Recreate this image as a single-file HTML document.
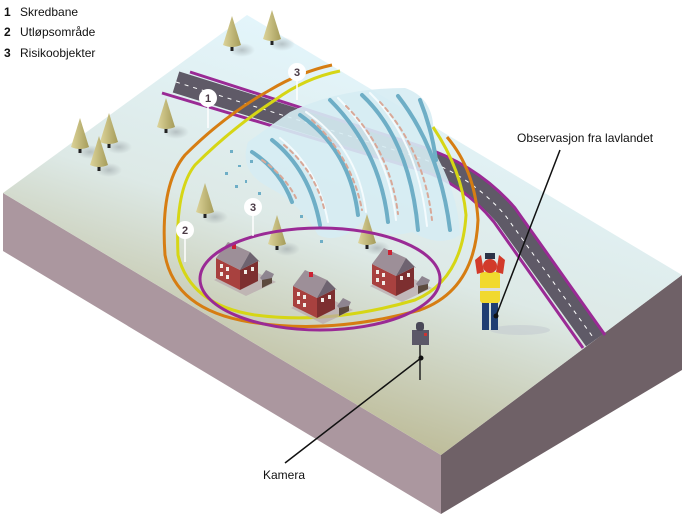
<!DOCTYPE html>
<html><head><meta charset="utf-8"><style>
html,body{margin:0;padding:0;background:#fff;}
svg{display:block;font-family:"Liberation Sans",sans-serif;}
</style></head><body>
<svg width="683" height="520" viewBox="0 0 683 520" xmlns="http://www.w3.org/2000/svg">
<defs>
<linearGradient id="top" x1="0.75" y1="0.2" x2="0.35" y2="1">
<stop offset="0" stop-color="#e3f5fb"/><stop offset="0.45" stop-color="#dde9e6"/><stop offset="1" stop-color="#b3ad7f"/>
</linearGradient>
<linearGradient id="tree" x1="0" x2="1"><stop offset="0" stop-color="#ddd49a"/><stop offset="1" stop-color="#a59c5a"/></linearGradient>
<radialGradient id="sh"><stop offset="0" stop-color="#9aa3a6" stop-opacity="0.6"/><stop offset="1" stop-color="#9aa3a6" stop-opacity="0"/></radialGradient>
<g id="t"><ellipse cx="10" cy="2" rx="13" ry="7" fill="url(#sh)"/><rect x="-1.5" y="-4" width="3" height="7" fill="#222"/><path d="M0,-32 L-9,-3 Q0,1 9,-3 Z" fill="url(#tree)"/></g>
<g id="h">
<path d="M-22,8 L10,24 L40,10 L8,-6 Z" fill="#b8a6ad" opacity="0.7"/>
<path d="M-20,-14 L-20,6 L4,18 L4,-2 Z" fill="#a8413f"/>
<path d="M4,18 L22,9 L22,-11 L4,-2 Z" fill="#7d2f30"/>
<path d="M-20,-14 L-8,-30 L14,-20 L4,-2 Z" fill="#9d8f98"/>
<path d="M4,-2 L14,-20 L24,-10 L22,-11 Z" fill="#6e6370"/>
<rect x="-4" y="-28" width="4" height="5" fill="#c23"/>
<g fill="#f2eee8"><rect x="-16" y="-8" width="3" height="4"/><rect x="-10" y="-5" width="3" height="4"/><rect x="-16" y="0" width="3" height="4"/><rect x="-10" y="3" width="3" height="4"/><rect x="8" y="-2" width="3" height="4"/><rect x="15" y="-5" width="3" height="4"/></g>
<path d="M26,6 L26,16 L36,11 L36,2 Z" fill="#5c4a3e"/><path d="M24,6 L30,-2 L38,2 L36,6 L26,8 Z" fill="#8e8590"/>
</g>
</defs>

<path d="M3,193 L441,455 L441,514 L3,251 Z" fill="#ab979f"/>
<path d="M441,455 L682,275 L682,370 L441,514 Z" fill="#6f6167"/>
<path d="M3,193 L247,15 L682,275 L441,455 Z" fill="url(#top)"/>

<!-- road -->
<path d="M176,82 L420,158 Q470,175 505,215 L595,340" fill="none" stroke="#5f5a67" stroke-width="22"/>
<path d="M176,82 L420,158 Q470,175 505,215 L595,340" fill="none" stroke="#fff" stroke-width="1" stroke-dasharray="4 5"/>
<path d="M162,93 L420,170 Q462,183 494,222 L583,348" fill="none" stroke="#9a2a95" stroke-width="3"/>
<path d="M190,72 L420,146 Q478,165 515,208 L605,335" fill="none" stroke="#9a2a95" stroke-width="3"/>

<!-- avalanche -->
<path d="M290,112 Q340,88 405,88 Q440,100 432,148 Q458,190 460,235 Q440,248 412,232 Q385,240 362,222 Q340,245 318,235 Q302,205 270,188 Q238,172 248,142 Z" fill="#d6ecf3" opacity="0.9"/>
<g fill="none" stroke-linecap="round">
<g stroke="#6eaec6" stroke-width="4">
<path d="M300,115 Q350,150 358,215"/><path d="M330,100 Q380,150 388,222"/><path d="M362,95 Q410,140 418,230"/><path d="M398,96 Q440,150 450,230"/><path d="M272,140 Q310,170 320,225"/><path d="M252,152 Q280,170 292,202"/><path d="M420,100 Q432,130 436,160"/>
</g>
<g stroke="#f4fbfd" stroke-width="2">
<path d="M306,112 Q358,148 366,212"/><path d="M338,98 Q388,148 396,220"/><path d="M370,93 Q418,140 427,226"/><path d="M280,138 Q318,168 328,222"/>
</g>
<g stroke="#d8a898" stroke-width="2" stroke-dasharray="4 4">
<path d="M312,120 Q352,158 362,210"/><path d="M346,106 Q390,150 398,214"/><path d="M380,102 Q424,150 432,220"/><path d="M284,145 Q314,170 324,208"/><path d="M262,160 Q285,176 296,198"/>
</g>
</g>
<g fill="#6eaec6"><rect x="230" y="150" width="3" height="3"/><rect x="238" y="165" width="3" height="2"/><rect x="225" y="172" width="3" height="3"/><rect x="245" y="180" width="2" height="3"/><rect x="258" y="192" width="3" height="3"/><rect x="300" y="215" width="3" height="3"/><rect x="320" y="240" width="3" height="3"/><rect x="235" y="185" width="3" height="3"/><rect x="250" y="160" width="3" height="3"/></g>

<use href="#t" x="232" y="48"/><use href="#t" x="272" y="42"/><use href="#t" x="166" y="130"/>
<use href="#t" x="80" y="150"/><use href="#t" x="109" y="145"/><use href="#t" x="99" y="168"/>
<use href="#t" x="205" y="215"/><use href="#t" x="277" y="247"/><use href="#t" x="367" y="246"/>

<path d="M332,65 Q300,72 270,90 Q225,115 185,155 Q160,185 165,255 Q175,310 250,322 Q330,335 420,310 Q475,290 478,220 Q475,170 447,137" fill="none" stroke="#d67d12" stroke-width="3"/>
<path d="M340,71 Q305,78 275,100 Q232,128 195,165 Q175,190 178,255 Q190,305 255,315 Q330,325 415,300 Q462,280 466,215 Q462,170 433,127" fill="none" stroke="#d6d615" stroke-width="3"/>

<use href="#h" x="236" y="272"/><use href="#h" x="313" y="300"/><use href="#h" x="392" y="278"/>

<ellipse cx="320" cy="279" rx="120" ry="51" fill="none" stroke="#9a2a95" stroke-width="3"/>

<g stroke="#fff" stroke-width="1.5"><line x1="208" y1="98" x2="208" y2="128"/><line x1="185" y1="230" x2="185" y2="262"/><line x1="253" y1="207" x2="253" y2="236"/><line x1="297" y1="72" x2="297" y2="100"/></g>
<g fill="#fff"><circle cx="208" cy="98" r="9"/><circle cx="185" cy="230" r="9"/><circle cx="253" cy="207" r="9"/><circle cx="297" cy="72" r="9"/></g>
<g font-size="11" font-weight="bold" fill="#4a3a45" text-anchor="middle"><text x="208" y="102">1</text><text x="185" y="234">2</text><text x="253" y="211">3</text><text x="297" y="76">3</text></g>

<!-- person -->
<ellipse cx="520" cy="330" rx="30" ry="5" fill="#c4ccd0" opacity="0.6"/>
<rect x="482" y="300" width="7" height="30" fill="#1f3e72"/><rect x="491" y="300" width="7" height="30" fill="#1f3e72"/>
<rect x="480" y="272" width="20" height="31" rx="3" fill="#f1d92e"/>
<rect x="480" y="288" width="20" height="3" fill="#ddd"/>
<path d="M477,274 L475,260 L481,255 L484,272 Z" fill="#d23a2a"/><path d="M503,274 L505,260 L499,255 L496,272 Z" fill="#d23a2a"/>
<circle cx="490" cy="266" r="7" fill="#d23a2a"/>
<rect x="485" y="253" width="10" height="6" fill="#2c3347"/>

<!-- camera -->
<line x1="420" y1="345" x2="420" y2="380" stroke="#222" stroke-width="1.5"/>
<rect x="412" y="330" width="17" height="15" fill="#5b5868"/><rect x="416" y="322" width="8" height="9" rx="3" fill="#4a4858"/><rect x="424" y="333" width="3" height="3" fill="#c33"/>

<line x1="285" y1="463" x2="421" y2="358" stroke="#111" stroke-width="1.5"/><circle cx="421" cy="358" r="2.5" fill="#111"/>
<line x1="560" y1="150" x2="496" y2="316" stroke="#111" stroke-width="1.5"/><circle cx="496" cy="316" r="2.5" fill="#111"/>
<text x="263" y="479" font-size="12" fill="#111">Kamera</text>
<text x="517" y="142" font-size="12" fill="#111">Observasjon fra lavlandet</text>

<g font-size="12" fill="#111">
<text x="4" y="16" font-weight="bold">1</text><text x="20" y="16">Skredbane</text>
<text x="4" y="36" font-weight="bold">2</text><text x="20" y="36">Utløpsområde</text>
<text x="4" y="57" font-weight="bold">3</text><text x="20" y="57">Risikoobjekter</text>
</g>
</svg>
</body></html>
